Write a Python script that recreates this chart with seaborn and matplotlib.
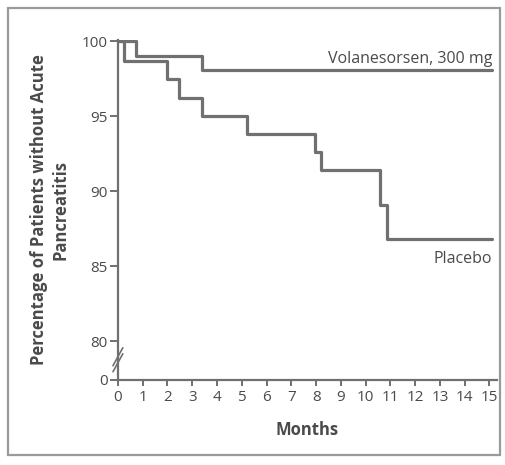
import numpy as np
import pandas as pd
import seaborn as sns
import matplotlib.pyplot as plt
from matplotlib.patches import Rectangle

# Kaplan-Meier step points (month, percent without acute pancreatitis)
vol_months = [0, 0.73, 3.4, 15.1]
vol_pct = [100, 99.0, 98.1, 98.1]
pla_months = [0, 0.25, 2.0, 2.47, 3.4, 5.2, 7.94, 8.2, 10.57, 10.85, 15.1]
pla_pct = [100, 98.7, 97.5, 96.2, 95.0, 93.8, 92.6, 91.4, 89.1, 86.8, 86.8]

y_ticks = [80, 85, 90, 95, 100]
x_ticks = list(range(0, 16))
y_floor = 77.4  # where the broken axis shows "0"

df = pd.concat([
    pd.DataFrame({"month": vol_months, "pct": vol_pct, "group": "Volanesorsen, 300 mg"}),
    pd.DataFrame({"month": pla_months, "pct": pla_pct, "group": "Placebo"}),
])

sns.set_style("white")
plt.rcParams["font.family"] = ["Open Sans", "DejaVu Sans"]

gray = "#707070"
text_gray = "#4a4a4a"

fig = plt.figure(figsize=(5.06, 4.65), dpi=100)
ax = fig.add_axes([0.233, 0.1828, 0.749, 0.732])

sns.lineplot(data=df, x="month", y="pct", hue="group", units="group", estimator=None,
             palette=[gray, gray], drawstyle="steps-post", linewidth=2.3,
             legend=False, ax=ax, sort=False)

ax.set_xlim(0, 15.3)
ax.set_ylim(y_floor, 100.1)
ax.set_xticks(x_ticks)
ax.set_yticks([y_floor] + y_ticks)
ax.set_yticklabels(["0"] + [str(v) for v in y_ticks])

for side in ["top", "right"]:
    ax.spines[side].set_visible(False)
for side in ["left", "bottom"]:
    ax.spines[side].set_color(gray)
    ax.spines[side].set_linewidth(1.6)

# seaborn's white style hides ticks, turn them back on
ax.tick_params(axis="both", direction="out", width=1.4, color=gray,
               labelsize=11, labelcolor=text_gray, left=True, bottom=True)
ax.tick_params(axis="y", length=5.8, pad=1.5)
ax.tick_params(axis="x", length=4, pad=3)

ax.set_xlabel("Months", fontsize=12, fontweight="bold", color=text_gray, labelpad=12)
ax.set_ylabel("Percentage of Patients without Acute\nPancreatitis", fontsize=12,
              fontweight="bold", color=text_gray, linespacing=1.25)
ax.yaxis.set_label_coords(-0.127, 0.5)

# axis break marks
for dy in (0.0, 0.4):
    ax.plot([-0.013, 0.013], [77.95 + dy, 79.15 + dy], transform=ax.get_yaxis_transform(),
            color=gray, lw=1.2, clip_on=False)

ax.text(15.1, 98.55, "Volanesorsen, 300 mg", ha="right", va="baseline",
        fontsize=11.5, color=text_gray)
ax.text(15.1, 85.2, "Placebo", ha="right", va="baseline", fontsize=11.5, color=text_gray)

fig.patches.append(Rectangle((0.016, 0.0215), 0.972, 0.9615, transform=fig.transFigure,
                             fill=False, edgecolor="#9a9a9a", linewidth=1.6))

fig.savefig("out.png", dpi=100)
